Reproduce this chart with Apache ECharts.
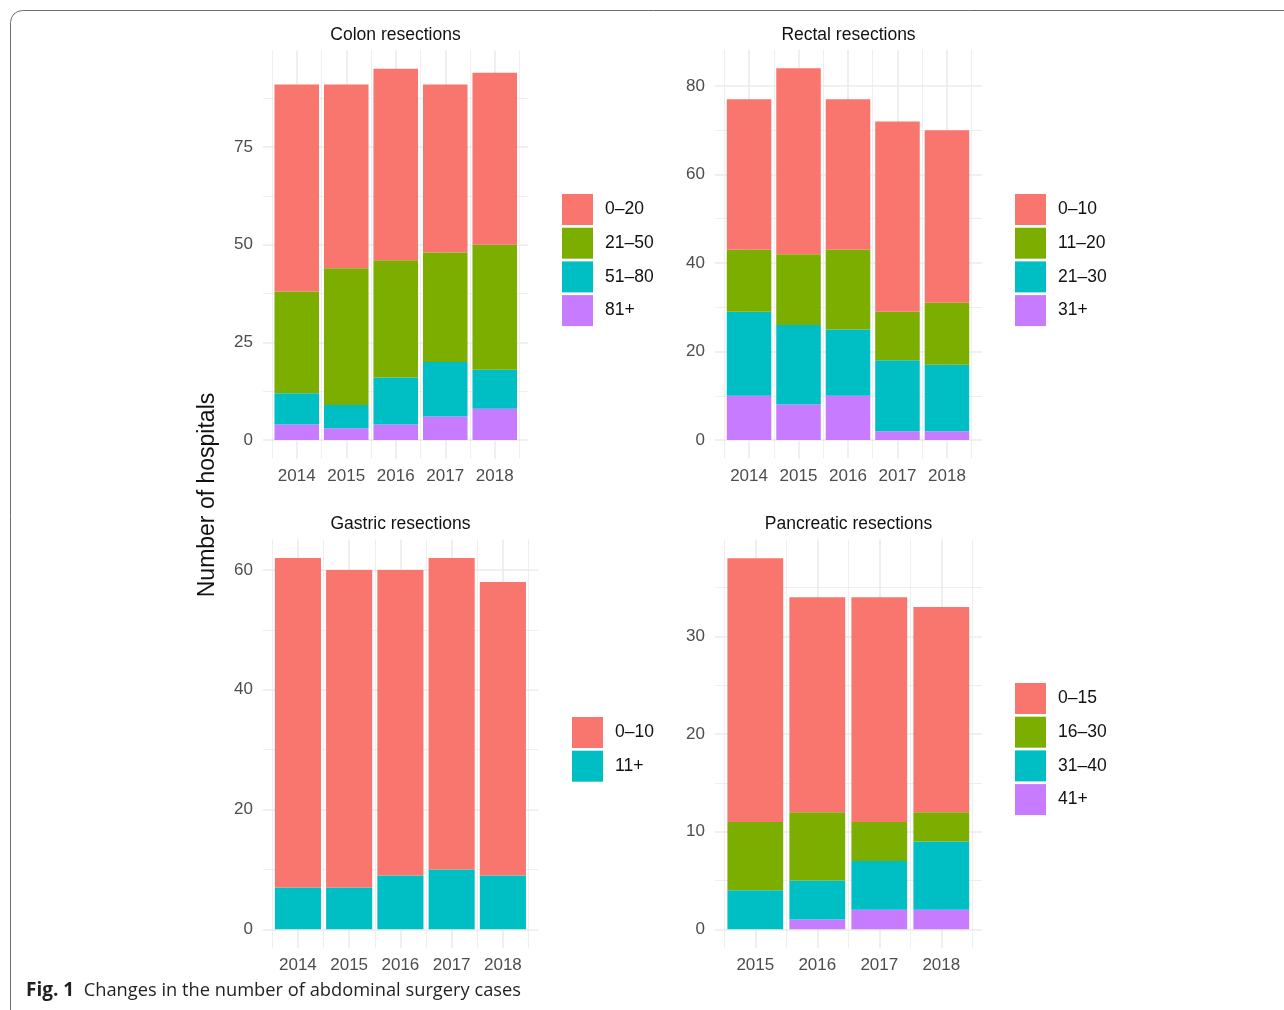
<!DOCTYPE html>
<html><head><meta charset="utf-8">
<script src="https://cdn.jsdelivr.net/npm/echarts@6/dist/echarts.min.js"></script>
<style>html,body{margin:0;padding:0;background:#fff}#c{width:1284px;height:1010px}</style>
</head><body><div id="c"></div>
<script>
// ---------- data ----------
const years5 = ['2014','2015','2016','2017','2018'];
const years4 = ['2015','2016','2017','2018'];

const colonLevels = ['0–20','21–50','51–80','81+'];
const colon0to20  = [53,47,49,43,44];
const colon21to50 = [26,35,30,28,32];
const colon51to80 = [8,6,12,14,10];
const colon81plus = [4,3,4,6,8];
const colonTicks = [0,25,50,75];

const rectalLevels = ['0–10','11–20','21–30','31+'];
const rectal0to10  = [34,42,34,43,39];
const rectal11to20 = [14,16,18,11,14];
const rectal21to30 = [19,18,15,16,15];
const rectal31plus = [10,8,10,2,2];
const rectalTicks = [0,20,40,60,80];

const gastricLevels = ['0–10','11+'];
const gastric0to10  = [55,53,51,52,49];
const gastric11plus = [7,7,9,10,9];
const gastricTicks = [0,20,40,60];

const pancLevels = ['0–15','16–30','31–40','41+'];
const panc0to15  = [27,22,23,21];
const panc16to30 = [7,7,4,3];
const panc31to40 = [4,4,5,7];
const panc41plus = [0,1,2,2];
const pancTicks = [0,10,20,30];

const RED='#F8766D', GREEN='#7CAE00', CYAN='#00BFC4', PURPLE='#C77CFF';
const FONT = '"Liberation Sans", Arial, sans-serif';
const CAPFONT = '"Open Sans", "Noto Sans", sans-serif';
const GRIDC = '#EBEBEB';

const option = {animation:false, grid:[], xAxis:[], yAxis:[], series:[], legend:[], graphic:[]};

function minorOf(ticks, yMax){
  const step = ticks[1]-ticks[0];
  const out = [];
  for (let i=0;i<ticks.length;i++){ const v=ticks[i]+step/2; if (v<yMax) out.push(v); }
  return out;
}

function addPanel(p){
  const g = option.grid.length, xa = option.xAxis.length, ya = option.yAxis.length;
  option.grid.push({left:p.bgLeft, width:p.bgWidth, top:p.top, height:p.height, containLabel:false});
  option.grid.push({left:p.left, width:p.width, top:p.top, height:p.height, containLabel:false});
  const n = p.cats.length;
  option.xAxis.push({type:'value', gridIndex:g, min:0, max:1, show:false});
  option.xAxis.push({type:'category', gridIndex:g+1, data:p.cats, boundaryGap:true,
    axisLine:{show:false}, axisTick:{show:false}, splitLine:{show:false},
    axisLabel:{color:'#4D4D4D', fontSize:17, fontFamily:FONT, margin:9}});
  const centres = p.cats.map((c,i)=>i+1);
  const edges = [0.5].concat(p.cats.map((c,i)=>i+1.5));
  option.xAxis.push({type:'value', gridIndex:g+1, min:0.5, max:n+0.5,
    axisLine:{show:false}, axisLabel:{show:false},
    axisTick:{show:false, customValues:centres},
    splitLine:{show:true, lineStyle:{color:GRIDC, width:1.6}}});
  option.xAxis.push({type:'value', gridIndex:g+1, min:0.5, max:n+0.5,
    axisLine:{show:false}, axisLabel:{show:false},
    axisTick:{show:false, customValues:edges},
    splitLine:{show:true, lineStyle:{color:GRIDC, width:0.8}}});
  option.yAxis.push({type:'value', gridIndex:g, min:p.yMin, max:p.yMax,
    axisLine:{show:false},
    axisTick:{show:false, customValues:p.ticks},
    axisLabel:{customValues:p.ticks, color:'#4D4D4D', fontSize:17, fontFamily:FONT, margin:10},
    splitLine:{show:true, lineStyle:{color:GRIDC, width:1.6}}});
  option.yAxis.push({type:'value', gridIndex:g, min:p.yMin, max:p.yMax,
    axisLine:{show:false}, axisLabel:{show:false},
    axisTick:{show:false, customValues:minorOf(p.ticks,p.yMax)},
    splitLine:{show:true, lineStyle:{color:GRIDC, width:0.8}}});
  option.yAxis.push({type:'value', gridIndex:g+1, min:p.yMin, max:p.yMax, show:false});

  const names = p.levels.map(l => p.key + '|' + l);
  for (let i=p.levels.length-1;i>=0;i--){
    option.series.push({type:'bar', name:names[i], stack:p.key, xAxisIndex:xa+1, yAxisIndex:ya+2,
      barCategoryGap:'10%', silent:true, itemStyle:{color:p.colors[i]}, data:p.values[i]});
  }
  option.legend.push({orient:'vertical', left:p.legendLeft, top:p.legendTop, padding:0, itemWidth:31, itemHeight:31,
    itemGap:2.7, icon:'rect', selectedMode:false, data:names,
    formatter:(nm)=>nm.split('|')[1],
    textStyle:{fontSize:17.5, color:'#111', fontFamily:FONT, padding:[6,0,0,7]}});
  option.graphic.push({type:'text', x:p.bgLeft + p.bgWidth/2, y:p.top - 15,
    style:{text:p.title, fontSize:17.5, fontFamily:FONT, fill:'#111', align:'center', verticalAlign:'middle'}});
}

addPanel({key:'colon', title:'Colon resections', cats:years5, levels:colonLevels,
  values:[colon0to20, colon21to50, colon51to80, colon81plus], colors:[RED,GREEN,CYAN,PURPLE],
  left:272, width:247.5, bgLeft:263, bgWidth:265, top:50.3, height:408.3,
  yMin:-4.75, yMax:99.75, ticks:colonTicks, legendLeft:562, legendTop:194});

addPanel({key:'rectal', title:'Rectal resections', cats:years5, levels:rectalLevels,
  values:[rectal0to10, rectal11to20, rectal21to30, rectal31plus], colors:[RED,GREEN,CYAN,PURPLE],
  left:724.3, width:247.4, bgLeft:715, bgWidth:267, top:49.7, height:408.9,
  yMin:-4.2, yMax:88.2, ticks:rectalTicks, legendLeft:1015, legendTop:194});

addPanel({key:'gastric', title:'Gastric resections', cats:years5, levels:gastricLevels,
  values:[gastric0to10, gastric11plus], colors:[RED,CYAN],
  left:272.3, width:256.2, bgLeft:263, bgWidth:275, top:539.4, height:408.5,
  yMin:-3.1, yMax:65.1, ticks:gastricTicks, legendLeft:572, legendTop:717});

addPanel({key:'panc', title:'Pancreatic resections', cats:years4, levels:pancLevels,
  values:[panc0to15, panc16to30, panc31to40, panc41plus], colors:[RED,GREEN,CYAN,PURPLE],
  left:724.3, width:248, bgLeft:715, bgWidth:267, top:539.6, height:408.3,
  yMin:-1.9, yMax:39.9, ticks:pancTicks, legendLeft:1015, legendTop:683});

option.graphic.push({type:'text', x:208, y:495, rotation:Math.PI/2,
  style:{text:'Number of hospitals', fontSize:23, fontFamily:FONT, fill:'#111', align:'center', verticalAlign:'middle'}});
option.graphic.push({type:'text', x:26, y:991,
  style:{text:'{b|Fig. 1}  Changes in the number of abdominal surgery cases', fontSize:18.3, fontFamily:CAPFONT, fill:'#231F20', verticalAlign:'middle',
    rich:{b:{fontWeight:'bold', fontSize:19, fontFamily:CAPFONT, fill:'#231F20'}}}});
option.graphic.push({type:'rect', shape:{x:10.5, y:10.5, width:1400, height:1100, r:12},
  style:{fill:'none', stroke:'#6d6d6d', lineWidth:1}, silent:true, z:-10});

const chart = echarts.init(document.getElementById('c'), null, {renderer:'canvas'});
chart.setOption(option);
</script></body></html>
